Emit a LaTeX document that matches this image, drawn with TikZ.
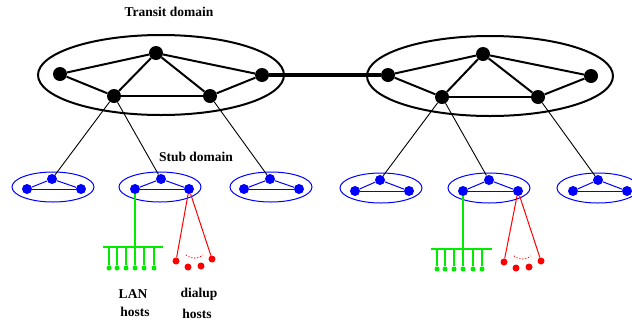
\documentclass[tikz,border=0pt]{standalone}
\usepackage{fontspec}
\setmainfont{Liberation Serif}
\definecolor{lan}{RGB}{0,235,0}
\definecolor{dial}{RGB}{255,0,0}
\definecolor{stub}{RGB}{0,0,255}
\begin{document}
\begin{tikzpicture}[x=1pt,y=-1pt,
  tnode/.style={circle,fill=black,inner sep=0pt,minimum size=14pt},
  snode/.style={circle,fill=stub,inner sep=0pt,minimum size=10pt},
  gdot/.style={circle,fill=lan,inner sep=0pt,minimum size=5pt},
  rdot/.style={circle,fill=dial,inner sep=0pt,minimum size=7pt},
  tedge/.style={line width=2pt},
  tring/.style={line width=2pt},
  sring/.style={stub,line width=1pt},
  sedge/.style={stub,line width=1pt},
  uplink/.style={line width=0.9pt},
  lanline/.style={lan,line width=1.3pt},
  dialline/.style={dial,line width=1pt},
  lbl/.style={font=\bfseries\fontsize{13.5}{15}\selectfont,inner sep=0pt}]
\useasboundingbox (0,0) rectangle (632,322);
\clip (0,0) rectangle (632,322);

% ---------- transit domains ----------
\draw[tring] (161,75) ellipse [x radius=123, y radius=40];
\draw[tring] (490,76) ellipse [x radius=123, y radius=40];

\node[tnode] (A1) at (60,74) {};
\node[tnode] (A2) at (156,53) {};
\node[tnode] (A3) at (114,96) {};
\node[tnode] (A4) at (210,96) {};
\node[tnode] (A5) at (262,75) {};

\node[tnode] (B1) at (388,75) {};
\node[tnode] (B2) at (483,54) {};
\node[tnode] (B3) at (442,97) {};
\node[tnode] (B4) at (538,97) {};
\node[tnode] (B5) at (591,76) {};

\foreach \p in {A,B}{
  \draw[tedge] (\p1) -- (\p2);
  \draw[tedge] (\p1) -- (\p3);
  \draw[tedge] (\p3) -- (\p2);
  \draw[tedge] (\p2) -- (\p4);
  \draw[tedge] (\p3) -- (\p4);
  \draw[tedge] (\p4) -- (\p5);
  \draw[tedge] (\p2) -- (\p5);
}
\draw[line width=4.5pt] (A5) -- (B1);

% ---------- stub domains ----------
\draw[sring] (53,187) ellipse [x radius=41, y radius=15];
\draw[sring] (160,187) ellipse [x radius=41, y radius=15];
\draw[sring] (271,187) ellipse [x radius=41, y radius=15];
\draw[sring] (381,188) ellipse [x radius=41, y radius=15];
\draw[sring] (489,188) ellipse [x radius=41, y radius=15];
\draw[sring] (598,188) ellipse [x radius=41, y radius=15];

\node[snode] (S1a) at (27,189) {};  \node[snode] (S1b) at (52,179) {};  \node[snode] (S1c) at (81,189) {};
\node[snode] (S2a) at (135,189) {}; \node[snode] (S2b) at (161,179) {}; \node[snode] (S2c) at (189,189) {};
\node[snode] (S3a) at (244,189) {}; \node[snode] (S3b) at (270,179) {}; \node[snode] (S3c) at (299,189) {};
\node[snode] (S4a) at (355,191) {}; \node[snode] (S4b) at (380,180) {}; \node[snode] (S4c) at (409,191) {};
\node[snode] (S5a) at (463,191) {}; \node[snode] (S5b) at (489,180) {}; \node[snode] (S5c) at (518,191) {};
\node[snode] (S6a) at (573,191) {}; \node[snode] (S6b) at (598,180) {}; \node[snode] (S6c) at (627,191) {};

\foreach \s in {S1,S2,S3,S4,S5,S6}{
  \draw[sedge] (\s a) -- (\s b);
  \draw[sedge] (\s b) -- (\s c);
  \draw[sedge] (\s a) -- (\s c);
}

% ---------- transit to stub links ----------
\draw[uplink] (A3) -- (S1b);
\draw[uplink] (A3) -- (S2b);
\draw[uplink] (A4) -- (S3b);
\draw[uplink] (B3) -- (S4b);
\draw[uplink] (B3) -- (S5b);
\draw[uplink] (B4) -- (S6b);

% ---------- LAN hosts (left) ----------
\coordinate (LbusL) at (103,247);
\coordinate (LbusR) at (163,247);
\draw[lanline] (LbusL) -- (LbusR);
\draw[lanline] (S2a) -- (S2a |- LbusL);
\foreach \i/\x in {1/109,2/117,3/126,4/135,5/144,6/154}{
  \node[gdot] (LG\i) at (\x,268) {};
  \draw[lanline] (LG\i |- LbusL) -- (LG\i);
}

% ---------- LAN hosts (right) ----------
\coordinate (RbusL) at (431,249);
\coordinate (RbusR) at (492,249);
\draw[lanline] (RbusL) -- (RbusR);
\draw[lanline] (S5a) -- (S5a |- RbusL);
\foreach \i/\x in {1/437,2/445,3/454,4/463,5/473,6/482}{
  \node[gdot] (RG\i) at (\x,269) {};
  \draw[lanline] (RG\i |- RbusL) -- (RG\i);
}

% ---------- dialup hosts (left) ----------
\node[rdot] (LD1) at (176,261) {};
\node[rdot] (LD2) at (188,267) {};
\node[rdot] (LD3) at (201,266) {};
\node[rdot] (LD4) at (212,259) {};
\draw[dialline] (S2c) -- (LD1);
\draw[dialline] (S2c) -- (LD4);
\coordinate (LDs) at (186,255);
\coordinate (LDe) at (203,255);
\draw[dial,line width=1pt,dotted] (LDs) .. controls (190,259) and (199,259) .. (LDe);

% ---------- dialup hosts (right) ----------
\node[rdot] (RD1) at (504,262) {};
\node[rdot] (RD2) at (516,268) {};
\node[rdot] (RD3) at (529,267) {};
\node[rdot] (RD4) at (541,261) {};
\draw[dialline] (S5c) -- (RD1);
\draw[dialline] (S5c) -- (RD4);
\coordinate (RDs) at (514,256);
\coordinate (RDe) at (531,256);
\draw[dial,line width=1pt,dotted] (RDs) .. controls (518,260) and (527,260) .. (RDe);

% ---------- labels ----------
\node[lbl] (tlab) at (169,12) {Transit domain};
\node[lbl] (slab) at (196,157) {Stub domain};
\node[lbl] (lan1) at (133,294) {LAN};
\node[lbl] (lan2) at (135,312) {hosts};
\node[lbl] (dia1) at (199,294) {dialup};
\node[lbl] (dia2) at (197,314) {hosts};
\end{tikzpicture}
\end{document}
